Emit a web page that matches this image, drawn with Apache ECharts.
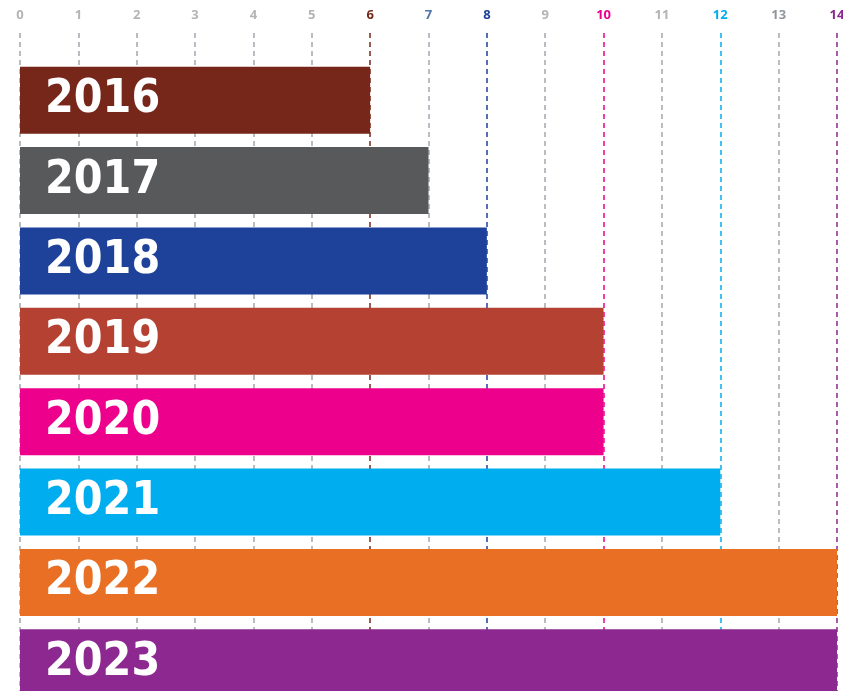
<!DOCTYPE html>
<html>
<head>
<meta charset="utf-8">
<script src="https://cdn.jsdelivr.net/npm/echarts@6/dist/echarts.min.js"></script>
<style>
  html, body { margin: 0; padding: 0; background: #fff; overflow: hidden; }
  #main { width: 843px; height: 703px; }
</style>
</head>
<body>
<div id="main"></div>
<script>
// data
const years = ['2016', '2017', '2018', '2019', '2020', '2021', '2022', '2023'];
const values = [6, 7, 8, 10, 10, 12, 14, 14];
const tickLabels = ['0', '1', '2', '3', '4', '5', '6', '7', '8', '9', '10', '11', '12', '13', '14'];

const barColors = ['#77261a', '#58595b', '#1e4199', '#b54132', '#ec008c', '#00aeef', '#e86f24', '#8c288f'];
const grey = '#a0a8b0';
const labelColors = ['#b4b4b4', '#b4b4b4', '#b4b4b4', '#b4b4b4', '#b4b4b4', '#b4b4b4', '#77261a',
    '#4f74ab', '#1e4199', '#b4b4b4', '#ec008c', '#b4b4b4', '#00aeef', '#8f969d', '#8c288f'];
const lineColors = [grey, grey, grey, grey, grey, grey, '#77261a',
    grey, '#1e4199', grey, '#ec008c', grey, '#00aeef', grey, '#8c288f'];

let rich = {};
tickLabels.forEach((t, i) => {
    rich['t' + i] = { color: labelColors[i], fontSize: 13, fontWeight: 'bold', fontFamily: 'Open Sans' };
});

let myChart = echarts.init(document.getElementById('main'));
myChart.setOption({
    animation: false,
    grid: [
        { left: 20, right: 6, top: 33, bottom: 0, outerBoundsMode: 'none' },
        { left: 20, right: 6, top: 60, bottom: 0, outerBoundsMode: 'none' }
    ],
    xAxis: [{
        gridIndex: 0,
        type: 'value',
        position: 'top',
        min: 0,
        max: 14,
        interval: 1,
        axisLine: { show: false },
        axisTick: { show: false },
        axisLabel: {
            margin: 11,
            formatter: (v) => '{t' + v + '|' + tickLabels[v] + '}',
            rich: rich
        },
        splitLine: {
            show: true,
            lineStyle: { color: lineColors, width: 1.5, type: [5, 4] }
        }
    }, {
        gridIndex: 1,
        type: 'value',
        min: 0,
        max: 14,
        show: false
    }],
    yAxis: [{
        gridIndex: 0,
        type: 'category',
        data: ['a'],
        show: false
    }, {
        gridIndex: 1,
        type: 'category',
        data: years,
        inverse: true,
        show: false
    }],
    series: [{
        type: 'bar',
        xAxisIndex: 1,
        yAxisIndex: 1,
        barCategoryGap: '16.7%',
        data: values.map((v, i) => ({ value: v, itemStyle: { color: barColors[i] } })),
        label: {
            show: true,
            position: 'insideLeft',
            distance: 25,
            formatter: (p) => years[p.dataIndex],
            color: '#fff',
            fontSize: 46,
            fontWeight: 'bold',
            fontFamily: 'DejaVu Sans Condensed, DejaVu Sans'
        }
    }]
});
</script>
</body>
</html>
